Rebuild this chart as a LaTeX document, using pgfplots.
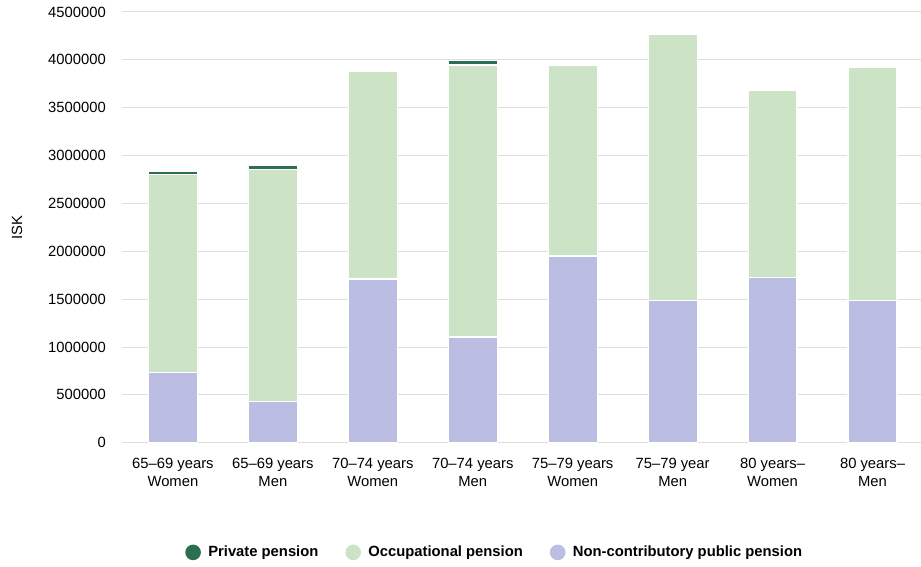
\documentclass[border=0pt]{standalone}
\usepackage{fontspec}
\setmainfont{Liberation Sans}
\usepackage{pgfplots}
\usepackage{pgfplotstable}
\pgfplotsset{compat=1.18}
\definecolor{privc}{HTML}{2B6E52}
\definecolor{occc}{HTML}{CDE3C5}
\definecolor{pubc}{HTML}{BBBDE2}
\definecolor{gridc}{HTML}{DEDEDE}
\pgfplotstableread{
x pub occ priv
0 730000 2075000 25000
1 430000 2427000 45000
2 1710000 2170000 0
3 1105000 2841000 50000
4 1950000 1996000 0
5 1490000 2780000 0
6 1730000 1955000 0
7 1490000 2435000 0
}\datatable
\begin{document}
\fontsize{14.8bp}{18bp}\selectfont
\begin{tikzpicture}
\begin{axis}[
  at={(0,0)}, anchor=south west,
  scale only axis, width=799bp, height=431bp,
  xmin=-0.51, xmax=7.48, ymin=0, ymax=4500000,
  ybar stacked, bar width=49bp,
  ytick={0,500000,...,4500000},
  scaled y ticks=false,
  yticklabel style={/pgf/number format/fixed,/pgf/number format/1000 sep={},/pgf/number format/assume math mode=true, font=\fontsize{14.8bp}{18bp}\selectfont, xshift=-11bp},
  xtick=data,
  xticklabels={{65–69 years\\Women},{65–69 years\\Men},{70–74 years\\Women},{70–74 years\\Men},{75–79 years\\Women},{75–79 year\\Men},{80 years–\\Women},{80 years–\\Men}},
  xticklabel style={align=center, font=\fontsize{14.8bp}{18bp}\selectfont, yshift=-10bp},
  ymajorgrids, grid style={gridc, line width=1bp},
  axis line style={draw=none},
  major tick length=0pt,
  tick style={draw=none},
  ylabel={ISK},
  ylabel style={at={(axis description cs:-0.1314,0.5)}, anchor=center, font=\fontsize{14.8bp}{18bp}\selectfont},
  legend columns=3,
  reverse legend,
  legend style={draw=none, at={(axis description cs:0.4668,-0.2545)}, anchor=center, font=\bfseries\fontsize{14.8bp}{18bp}\selectfont,
    /tikz/every even column/.append style={column sep=25bp}},
  legend image code/.code={\fill[#1, draw=none] (0,0) circle (7.8bp); \path[draw=none, fill=none] (-7.8bp,0) -- (13.2bp,0);},
]
\addplot[fill=pubc, draw=white, line width=1.2bp] table[x=x,y=pub]{\datatable};
\addlegendentry{Non-contributory public pension}
\addplot[fill=occc, draw=white, line width=1.2bp] table[x=x,y=occ]{\datatable};
\addlegendentry{Occupational pension}
\addplot[fill=privc, draw=white, line width=1.2bp] table[x=x,y=priv]{\datatable};
\addlegendentry{Private pension}
\end{axis}
\path[use as bounding box] (-122bp,-124bp) rectangle (799bp,443bp);
\end{tikzpicture}
\end{document}
